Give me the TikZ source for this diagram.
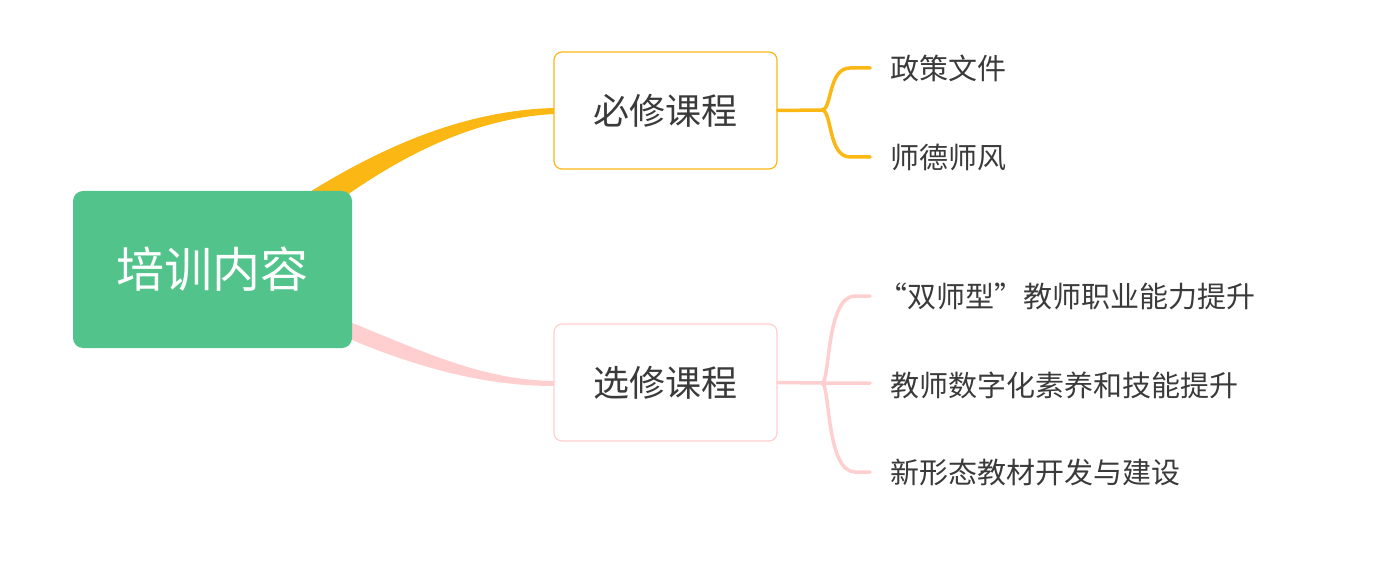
\documentclass[tikz,border=0pt]{standalone}
\usepackage{fontspec}
\newfontfamily\cjk{Noto Sans CJK SC}
\definecolor{gr}{HTML}{52C48B}
\definecolor{orz}{HTML}{FBB714}
\definecolor{pk}{HTML}{FFCFCF}
\definecolor{tx}{HTML}{3A3A3A}
\begin{document}
\begin{tikzpicture}[x=1pt,y=-1pt,
  sub/.style={draw,line width=1.2pt,rounded corners=8pt,fill=white,minimum width=223pt,minimum height=117pt,font=\cjk\fontsize{36}{40}\selectfont,text=tx},
  leaf/.style={anchor=west,font=\cjk\fontsize{29}{32}\selectfont,text=tx,inner sep=0pt}]
\useasboundingbox (0,0) rectangle (1396,569);
% tapered branches
\fill[orz] (305,195) .. controls (400,135) and (480,110) .. (554,108)
  -- (554,114) .. controls (480,118) and (410,150) .. (340,200) -- cycle;
\fill[pk] (340,318) .. controls (420,350) and (480,380) .. (554,381)
  -- (554,386) .. controls (480,386) and (410,365) .. (340,335) -- cycle;
\node[fill=gr,rounded corners=10pt,minimum width=279pt,minimum height=157pt,text=white,font=\cjk\fontsize{48}{52}\selectfont] (root) at (212.5,269.5) {培训内容};
\node[sub,draw=orz] (b1) at (665.5,110.5) {必修课程};
\node[sub,draw=pk] (b2) at (665.5,382.5) {选修课程};
\coordinate (j1) at (822,110);
\coordinate (j2) at (822,383);
\node[leaf] (l1) at (890,68) {政策文件};
\node[leaf] (l2) at (890,157) {师德师风};
\node[leaf] (l3) at (878,296) {“双师型”教师职业能力提升};
\node[leaf] (l4) at (890,385) {教师数字化素养和技能提升};
\node[leaf] (l5) at (890,473) {新形态教材开发与建设};
\begin{scope}[line width=3.5pt,line cap=round,orz]
\draw (b1.east) -- (j1);
\draw (j1) .. controls (832,110) and (828,68) .. (850,68) -- (870,68);
\draw (j1) .. controls (832,110) and (828,157) .. (850,157) -- (870,157);
\end{scope}
\begin{scope}[line width=3.5pt,line cap=round,pk]
\draw (b2.east) -- (j2) -- (870,383);
\draw (j2) .. controls (830,383) and (826,296) .. (855,296) -- (870,296);
\draw (j2) .. controls (830,383) and (826,472) .. (855,472) -- (870,472);
\end{scope}
\end{tikzpicture}
\end{document}
